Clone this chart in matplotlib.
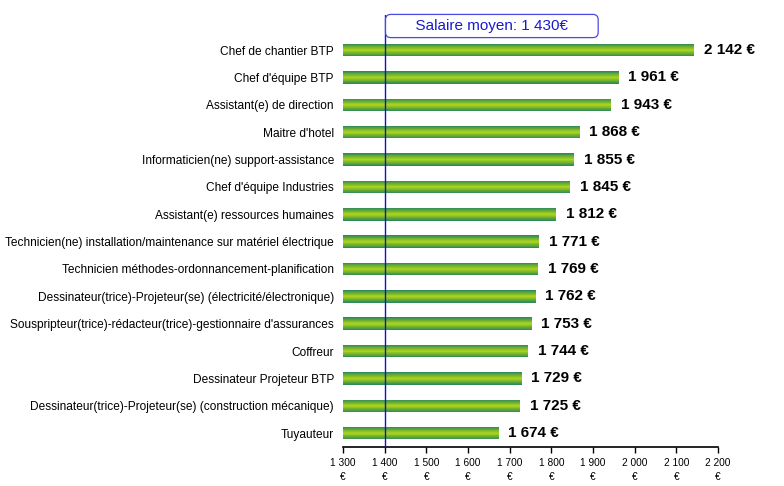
import numpy as np
import matplotlib.pyplot as plt
from matplotlib.colors import LinearSegmentedColormap

plt.rcParams['font.family'] = ['Liberation Sans', 'DejaVu Sans']

metiers = [
    "Chef de chantier BTP",
    "Chef d'équipe BTP",
    "Assistant(e) de direction",
    "Maitre d'hotel",
    "Informaticien(ne) support-assistance",
    "Chef d'équipe Industries",
    "Assistant(e) ressources humaines",
    "Technicien(ne) installation/maintenance sur matériel électrique",
    "Technicien méthodes-ordonnancement-planification",
    "Dessinateur(trice)-Projeteur(se) (électricité/électronique)",
    "Souspripteur(trice)-rédacteur(trice)-gestionnaire d'assurances",
    "Coffreur",
    "Dessinateur Projeteur BTP",
    "Dessinateur(trice)-Projeteur(se) (construction mécanique)",
    "Tuyauteur",
]
salaires = [2142, 1961, 1943, 1868, 1855, 1845, 1812, 1771, 1769, 1762, 1753, 1744, 1729, 1725, 1674]
xticks = [1300, 1400, 1500, 1600, 1700, 1800, 1900, 2000, 2100, 2200]
ligne_moyenne = 1400
texte_moyenne = "Salaire moyen: 1 430€"

def fmt(v):
    return f"{v:,}".replace(",", " ")

fig = plt.figure(figsize=(7.84, 4.86), dpi=100)
ax = fig.add_axes([0.4375, 0.080, 0.4785, 0.889])

y = np.arange(len(metiers))
h = 0.46
# degrade : bords vert-bleute, centre jaune-vert
cmap = LinearSegmentedColormap.from_list("g", ["#2f8a5a", "#6fb02e", "#a8d21e"])
n = 14
for k in range(n):
    frac = 1 - k / n
    c = cmap(k / (n - 1))
    ax.barh(y, np.array(salaires) - 1300, left=1300, height=h * frac, color=c, edgecolor='none', zorder=2)

for yi, v in zip(y, salaires):
    ax.text(v + 23, yi, fmt(v) + " €", va='center', ha='left', fontsize=11, fontweight='bold', color='black')

ax.set_xlim(1300, 2200)
ax.set_ylim(14.51, -1.28)
ax.set_xticks(xticks)
ax.set_xticklabels([fmt(t) + "\n€" for t in xticks], fontsize=7.3, linespacing=1.55)
ax.set_yticks(y)
ax.set_yticklabels(metiers, fontsize=8.6)
ax.tick_params(axis='y', length=0, pad=6.5)
ax.tick_params(axis='x', direction='out', length=4, width=1)
for s in ['top', 'right', 'left']:
    ax.spines[s].set_visible(False)
ax.spines['bottom'].set_linewidth(1.2)

ax.axvline(ligne_moyenne, color='#1010d0', lw=1, zorder=3)
ax.text(ligne_moyenne + 13, -0.88, "      " + texte_moyenne + "      ", ha='left', va='center',
        fontsize=11, color='#1a1acc',
        bbox=dict(boxstyle='round,pad=0.3,rounding_size=0.35', fc='white', ec='#4a4ae0', lw=0.9), zorder=4)

fig.savefig("out.png", dpi=100)
